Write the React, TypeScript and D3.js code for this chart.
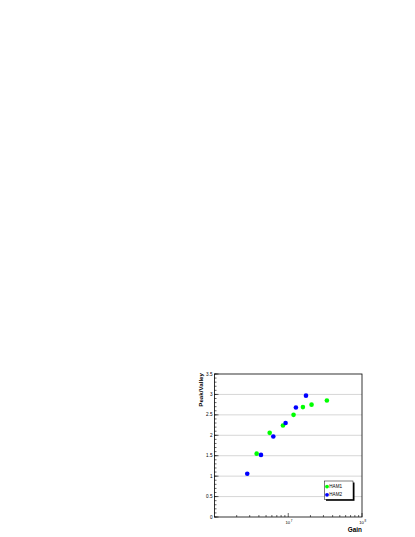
import React from 'react';
import * as d3 from 'd3';

// HAM1 / HAM2 peak-to-valley ratio vs gain
const ham1Gain = [3.73e6, 5.6e6, 8.47e6, 1.18e7, 1.58e7, 2.07e7, 3.34e7];
const ham1PV = [1.55, 2.06, 2.24, 2.5, 2.69, 2.75, 2.85];
const ham2Gain = [2.78e6, 4.27e6, 6.27e6, 9.2e6, 1.27e7, 1.74e7];
const ham2PV = [1.06, 1.52, 1.97, 2.3, 2.68, 2.97];

const yMajorTicks = [0, 0.5, 1, 1.5, 2, 2.5, 3, 3.5];
const yTickLabels = ['0', '0.5', '1', '1.5', '2', '2.5', '3', '3.5'];
const xDecades = [1e7, 1e8];
const xDecadeExp = ['7', '8'];

const seriesNames = ['HAM1', 'HAM2'];
const seriesColors = ['#00ff00', '#0000ff'];

const font = '"Liberation Sans", Arial, sans-serif';

const App = () => {
  const width = 415;
  const height = 537;
  // frame
  const left = 214.5;
  const right = 362;
  const top = 374;
  const bottom = 517;

  const x = d3.scaleLog().domain([1e6, 1e8]).range([left, right]);
  const y = d3.scaleLinear().domain([0, 3.5]).range([bottom, top]);

  // minor ticks every 0.1 on y, 2..9 per decade on x
  const yMinor = d3.range(0, 36).map(i => i / 10);
  const xMinor: number[] = [];
  [1e6, 1e7].forEach(d => {
    for (let k = 2; k <= 9; k++) xMinor.push(d * k);
  });

  const series = [
    { gain: ham1Gain, pv: ham1PV },
    { gain: ham2Gain, pv: ham2PV },
  ];

  return (
    <svg
      width={width}
      height={height}
      style={{ position: 'absolute', left: 0, top: 0, background: '#fff' }}
    >
      {/* horizontal grid */}
      {yMajorTicks.slice(1, -1).map(t => (
        <line
          key={'g' + t}
          x1={left}
          x2={right}
          y1={y(t)}
          y2={y(t)}
          stroke="#999"
          strokeWidth={0.8}
          strokeDasharray="1,1"
        />
      ))}

      {/* frame */}
      <rect x={left} y={top} width={right - left} height={bottom - top} fill="none" stroke="#000" strokeWidth={0.8} />

      {/* y ticks */}
      {yMinor.map(t => (
        <line key={'ym' + t} x1={left} x2={left + 2} y1={y(t)} y2={y(t)} stroke="#000" strokeWidth={0.6} />
      ))}
      {yMajorTicks.map((t, i) => (
        <g key={'yt' + t}>
          <line x1={left} x2={left + 4} y1={y(t)} y2={y(t)} stroke="#000" strokeWidth={0.6} />
          <text
            x={left - 2}
            y={y(t)}
            dy="0.35em"
            textAnchor="end"
            fontFamily={font}
            fontSize={4.6}
          >
            {yTickLabels[i]}
          </text>
        </g>
      ))}

      {/* x ticks */}
      {xMinor.map(t => (
        <line key={'xm' + t} x1={x(t)} x2={x(t)} y1={bottom} y2={bottom - 2} stroke="#000" strokeWidth={0.6} />
      ))}
      {xDecades.map((t, i) => (
        <g key={'xt' + t}>
          <line x1={x(t)} x2={x(t)} y1={bottom} y2={bottom - 4} stroke="#000" strokeWidth={0.6} />
          <text x={x(t) - 0.5} y={bottom + 6.8} textAnchor="middle" fontFamily={font} fontSize={4.2}>
            10
          </text>
          <text x={x(t) + 2.6} y={bottom + 4.8} fontFamily={font} fontSize={3}>
            {xDecadeExp[i]}
          </text>
        </g>
      ))}

      {/* axis titles */}
      <text
        x={right}
        y={bottom + 15}
        textAnchor="end"
        fontFamily={font}
        fontWeight="bold"
        fontSize={6.4}
      >
        Gain
      </text>
      <text
        transform={`translate(202.5, ${top - 1}) rotate(-90)`}
        textAnchor="end"
        fontFamily={font}
        fontWeight="bold"
        fontSize={6.2}
      >
        Peak/Valley
      </text>

      {/* points */}
      {series.map((s, si) =>
        s.gain.map((g, i) => (
          <circle key={si + '-' + i} cx={x(g)} cy={y(s.pv[i])} r={2.3} fill={seriesColors[si]} />
        ))
      )}

      {/* legend */}
      <rect x={326} y={482.5} width={28.5} height={18.3} fill="#000" />
      <rect x={324.5} y={481} width={28.5} height={18.3} fill="#fff" stroke="#000" strokeWidth={0.5} />
      {seriesNames.map((n, i) => (
        <g key={n}>
          <circle cx={327} cy={486.6 + i * 8.2} r={1.9} fill={seriesColors[i]} />
          <text x={329.3} y={486.6 + i * 8.2} dy="0.35em" fontFamily={font} fontSize={4.6}>
            {n}
          </text>
        </g>
      ))}
    </svg>
  );
};

export default App;
